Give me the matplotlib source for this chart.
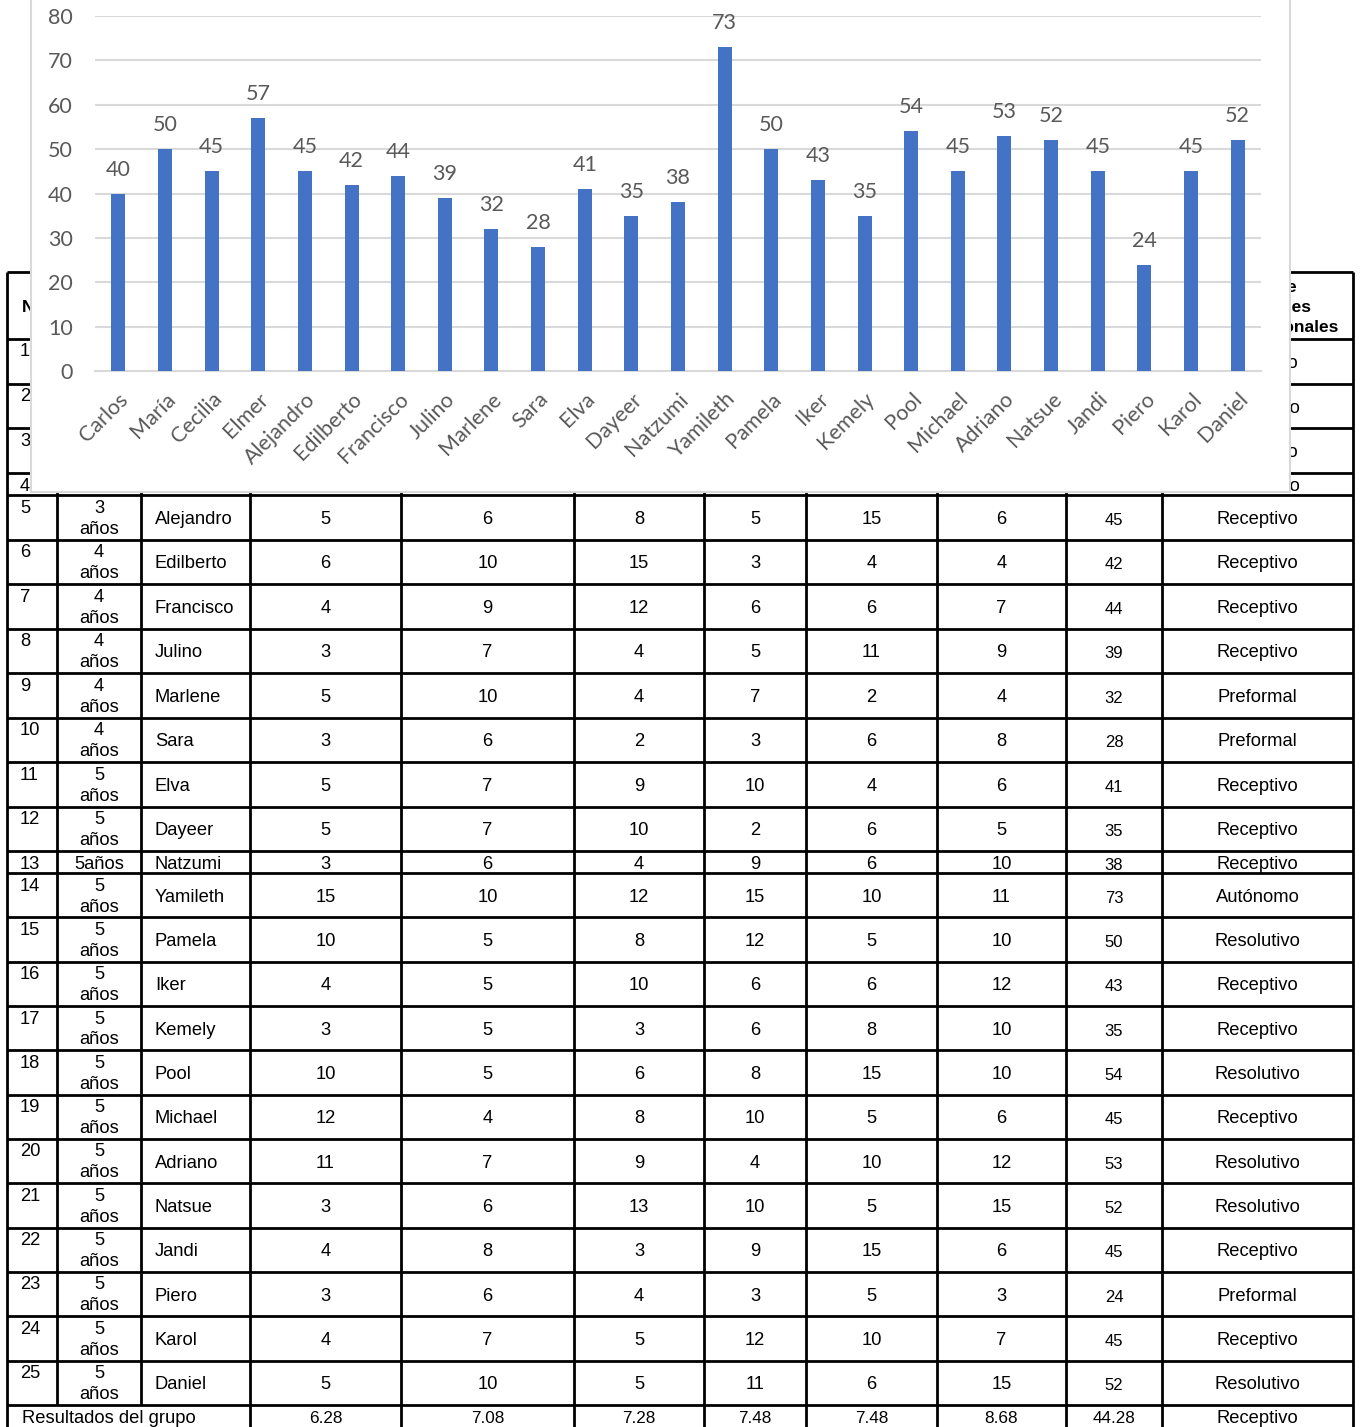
import matplotlib.pyplot as plt

W, H = 1360, 1427

nums = list(range(1, 26))
edades = ['3\naños'] * 4 + ['3\naños'] + ['4\naños'] * 5 + ['5\naños'] * 2 + ['5años'] + ['5\naños'] * 12
nombres = ['Carlos', 'María', 'Cecilia', 'Elmer', 'Alejandro', 'Edilberto', 'Francisco', 'Julino',
           'Marlene', 'Sara', 'Elva', 'Dayeer', 'Natzumi', 'Yamileth', 'Pamela', 'Iker', 'Kemely',
           'Pool', 'Michael', 'Adriano', 'Natsue', 'Jandi', 'Piero', 'Karol', 'Daniel']
d1 = [6, 8, 10, 10, 5, 6, 4, 3, 5, 3, 5, 5, 3, 15, 10, 4, 3, 10, 12, 11, 3, 4, 3, 4, 5]
d2 = [7, 8, 8, 8, 6, 10, 9, 7, 10, 6, 7, 7, 6, 10, 5, 5, 5, 5, 4, 7, 6, 8, 6, 7, 10]
d3 = [6, 7, 7, 8, 8, 15, 12, 4, 4, 2, 9, 10, 4, 12, 8, 10, 3, 6, 8, 9, 13, 3, 4, 5, 5]
d4 = [7, 8, 7, 9, 5, 3, 6, 5, 7, 3, 10, 2, 9, 15, 12, 6, 6, 8, 10, 4, 10, 9, 3, 12, 11]
d5 = [6, 7, 6, 8, 15, 4, 6, 11, 2, 6, 4, 6, 6, 10, 5, 6, 8, 15, 5, 10, 5, 15, 5, 10, 6]
d6 = [8, 12, 7, 14, 6, 4, 7, 9, 4, 8, 6, 5, 10, 11, 10, 12, 10, 10, 6, 12, 15, 6, 3, 7, 15]
totales = [40, 50, 45, 57, 45, 42, 44, 39, 32, 28, 41, 35, 38, 73, 50, 43, 35, 54, 45, 53, 52, 45, 24, 45, 52]
niveles = ['Receptivo', 'Resolutivo', 'Receptivo', 'Resolutivo', 'Receptivo', 'Receptivo', 'Receptivo',
           'Receptivo', 'Preformal', 'Preformal', 'Receptivo', 'Receptivo', 'Receptivo', 'Autónomo',
           'Resolutivo', 'Receptivo', 'Receptivo', 'Resolutivo', 'Receptivo', 'Resolutivo', 'Resolutivo',
           'Receptivo', 'Preformal', 'Receptivo', 'Resolutivo']
promedios = ['6.28', '7.08', '7.28', '7.48', '7.48', '8.68', '44.28']
nivel_grupo = 'Receptivo'
encabezados = ['N°', 'Edad', 'Nombre', 'D1', 'D2', 'D3', 'D4', 'D5', 'D6', 'Total',
               'Nivel de\nhabilidades\nsocioemocionales']

fig = plt.figure(figsize=(W / 100, H / 100), dpi=100)

# ---- tabla (fondo)
ax = fig.add_axes([0, 0, 1, 1])
ax.set_xlim(0, W)
ax.set_ylim(H, 0)
ax.axis('off')

cols = [7, 57, 141, 250, 401, 574, 704, 806, 937, 1066, 1162, 1353]
alturas = [44.67] * 3 + [22] + [44.5] * 8 + [22] + [44.33] * 12
tops = [339]
for h in alturas:
    tops.append(tops[-1] + h)
tabla_top = 272
fin = H + 5
lw = 2.0
fam = 'Liberation Sans'

ax.hlines([tabla_top] + tops, cols[0], cols[-1], color='black', lw=lw)
for x in cols:
    if x in (57, 141):
        ax.vlines(x, tabla_top, tops[-1], color='black', lw=lw)
    else:
        ax.vlines(x, tabla_top, fin, color='black', lw=lw)

fs = 13.2
for j, t in enumerate(encabezados):
    cx = (cols[j] + cols[j + 1]) / 2
    if j == len(encabezados) - 1:
        cx += 6
    ax.text(cx, (tabla_top + 339) / 2 + 2, t, ha='center', va='center', fontsize=12.5,
            fontweight='bold', family=fam, linespacing=1.4)

for i in range(25):
    y0, y1 = tops[i], tops[i + 1]
    yc = (y0 + y1) / 2 + 2
    corto = (y1 - y0) < 30
    ax.text(20, yc if corto else y0 + 13, str(nums[i]), ha='left', va='center',
            fontsize=fs, family=fam)
    if corto:
        ax.text(99, yc, edades[i].replace('\n', ''), ha='center', va='center',
                fontsize=fs, family=fam)
    else:
        a, b = edades[i].split('\n')
        ax.text(99, y0 + 13, a, ha='center', va='center', fontsize=fs, family=fam)
        ax.text(99, y0 + 34, b, ha='center', va='center', fontsize=fs, family=fam)
    ax.text(155, yc, nombres[i], ha='left', va='center', fontsize=fs, family=fam)
    vals = [d1[i], d2[i], d3[i], d4[i], d5[i], d6[i]]
    for k, v in enumerate(vals):
        cx = (cols[3 + k] + cols[4 + k]) / 2
        ax.text(cx, yc, str(v), ha='center', va='center', fontsize=fs, family=fam)
    ax.text((cols[9] + cols[10]) / 2, yc + 1, str(totales[i]), ha='center', va='center',
            fontsize=12, family=fam)
    ax.text((cols[10] + cols[11]) / 2, yc, niveles[i], ha='center', va='center',
            fontsize=fs, family=fam)

yr = tops[-1] + 14
ax.text(22, yr, 'Resultados del grupo', ha='left', va='center', fontsize=fs, family=fam)
for k, p in enumerate(promedios):
    cx = (cols[3 + k] + cols[4 + k]) / 2
    ax.text(cx, yr, p, ha='center', va='center', fontsize=12.3, family=fam)
ax.text((cols[10] + cols[11]) / 2, yr, nivel_grupo, ha='center', va='center',
        fontsize=fs, family=fam)

# ---- caja del grafico
def px_axes(x0, y0, x1, y1):
    return fig.add_axes([x0 / W, 1 - y1 / H, (x1 - x0) / W, (y1 - y0) / H])

box = px_axes(31, -20, 1290, 492)
box.set_xticks([])
box.set_yticks([])
box.set_facecolor('white')
for s in box.spines.values():
    s.set_color('#d9d9d9')
    s.set_linewidth(1.5)

# ---- grafico de barras
gris = '#595959'
bx = px_axes(95, 16, 1261, 371)
bx.set_facecolor('none')
x = range(len(nombres))
bx.bar(x, totales, width=0.3, color='#4472C4', zorder=3)
bx.set_xlim(-0.5, len(nombres) - 0.5)
bx.set_ylim(0, 80)
bx.set_yticks(range(0, 81, 10))
bx.grid(axis='y', color='#d9d9d9', lw=1.5, zorder=0)
for s in ['top', 'right', 'left']:
    bx.spines[s].set_visible(False)
bx.spines['bottom'].set_color('#d9d9d9')
bx.spines['bottom'].set_linewidth(1.5)
bx.tick_params(length=0, colors=gris, labelsize=15.5)
bx.tick_params(axis='y', pad=16)
bx.tick_params(axis='x', pad=13)
bx.set_xticks(list(x))
bx.set_xticklabels(nombres, rotation=45, ha='right', rotation_mode='anchor', family='Lato')
for lab in bx.get_yticklabels():
    lab.set_family('Lato')
for i, v in enumerate(totales):
    bx.annotate(str(v), (i, v), xytext=(0, 10), textcoords='offset points', ha='center',
                va='bottom', fontsize=15.5, color=gris, family='Lato')

fig.savefig('out.png', dpi=100)
